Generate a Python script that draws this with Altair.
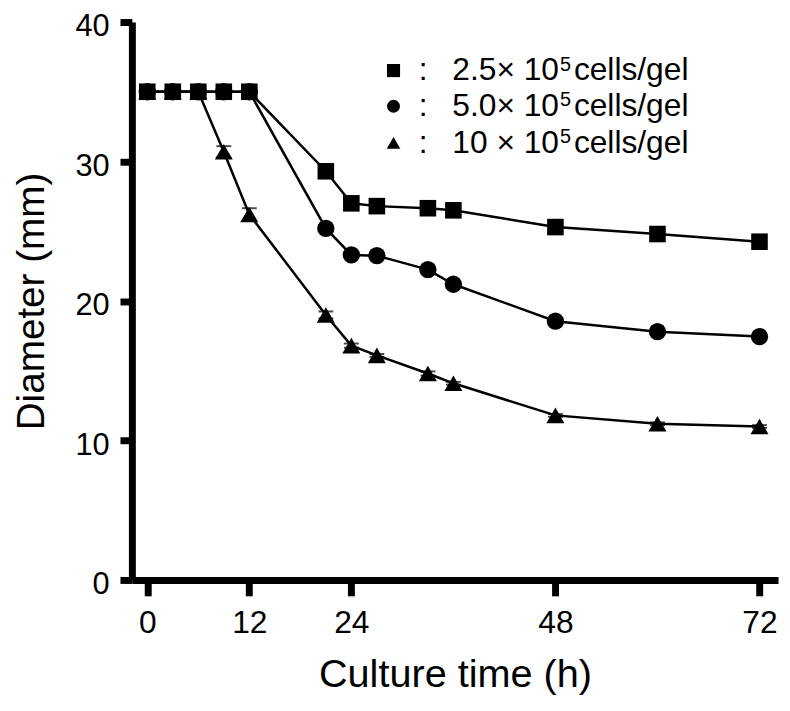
import altair as alt
import pandas as pd

FONT = "Liberation Sans"

# ---- data ----
times = [0, 3, 6, 9, 12, 21, 24, 27, 33, 36, 48, 60, 72]
diam_25 = [35, 35, 35, 35, 35, 29.3, 27.0, 26.8, 26.65, 26.5, 25.3, 24.8, 24.25]
diam_50 = [35, 35, 35, 35, 35, 25.2, 23.3, 23.25, 22.25, 21.2, 18.55, 17.8, 17.45]
diam_10 = [35, 35, 35, 30.7, 26.2, 19.0, 16.8, 16.1, 14.8, 14.1, 11.8, 11.2, 11.0]
err_10 = [0, 0, 0, 0.4, 0.45, 0.25, 0.15, 0.1, 0.15, 0.1, 0.1, 0.1, 0.1]

series_keys = ["10", "5.0", "2.5"]          # drawing order (squares on top)
series_shapes = ["triangle-up", "circle", "square"]
series_sizes = [330, 280, 320]

x_ticks = [0, 12, 24, 48, 72]
y_ticks = [0, 10, 20, 30, 40]

legend_shapes = ["square", "circle", "triangle-up"]
legend_sizes = [175, 170, 190]
legend_values = ["2.5\u00d7 10", "5.0\u00d7 10", "10 \u00d7 10"]
legend_sup = "5"
legend_unit = "cells/gel"
legend_rows_px = [49, 85, 122]

# ---- tables ----
rows = []
for key, vals in zip(series_keys, [diam_10, diam_50, diam_25]):
    for t, v in zip(times, vals):
        rows.append({"time": t, "diam": v, "series": key})
df = pd.DataFrame(rows)

err_df = pd.DataFrame({"time": times, "diam": diam_10, "err": err_10})
err_df = err_df[err_df["err"] > 0].copy()
err_df["lo"] = err_df["diam"] - err_df["err"]
err_df["hi"] = err_df["diam"] + err_df["err"]

x_scale = alt.Scale(domain=[-1.81, 74.18], nice=False, zero=False)
y_scale = alt.Scale(domain=[0, 40], nice=False, zero=True)

x_enc = alt.X("time:Q", scale=x_scale,
              axis=alt.Axis(values=x_ticks, title="Culture time (h)", tickSize=16,
                            labelPadding=12, titlePadding=16, labelFlush=False))
y_enc = alt.Y("diam:Q", scale=y_scale,
              axis=alt.Axis(values=y_ticks, title="Diameter (mm)", tickSize=12,
                            labelPadding=11, titlePadding=24, labelFlush=False,
                            labelOffset=5, labelFontSize=31, titleFontSize=39))

base = alt.Chart(df)

lines = base.mark_line(color="black", strokeWidth=2.5).encode(
    x=x_enc, y=y_enc, detail="series:N", order="time:Q"
)

err_rule = alt.Chart(err_df).mark_rule(color="black", strokeWidth=2).encode(
    x="time:Q", y="lo:Q", y2="hi:Q"
)
err_cap_hi = alt.Chart(err_df).mark_tick(color="black", thickness=2, size=15, orient="horizontal").encode(
    x="time:Q", y="hi:Q"
)
err_cap_lo = alt.Chart(err_df).mark_tick(color="black", thickness=2, size=15, orient="horizontal").encode(
    x="time:Q", y="lo:Q"
)

points = base.mark_point(filled=True, color="black", opacity=1, strokeWidth=0).encode(
    x="time:Q",
    y="diam:Q",
    shape=alt.Shape("series:N", scale=alt.Scale(domain=series_keys, range=series_shapes), legend=None),
    size=alt.Size("series:N", scale=alt.Scale(domain=series_keys, range=series_sizes), legend=None),
)

layers = [lines, err_rule, err_cap_hi, err_cap_lo, points]

# ---- custom legend ----
for i in range(3):
    ldf = pd.DataFrame({"v": [legend_values[i]]})
    yy = legend_rows_px[i]
    layers.append(
        alt.Chart(ldf).mark_point(filled=True, color="black", opacity=1, strokeWidth=0,
                                  shape=legend_shapes[i], size=legend_sizes[i]).encode(
            x=alt.value(264), y=alt.value(yy))
    )
    layers.append(
        alt.Chart(ldf).mark_text(text=":", font=FONT, fontSize=32, align="center",
                                 baseline="middle", color="black").encode(
            x=alt.value(294), y=alt.value(yy))
    )
    layers.append(
        alt.Chart(ldf).mark_text(font=FONT, fontSize=32, align="right",
                                 baseline="middle", color="black").encode(
            text="v:N", x=alt.value(431), y=alt.value(yy))
    )
    layers.append(
        alt.Chart(ldf).mark_text(text=legend_sup, font=FONT, fontSize=20, align="left",
                                 baseline="middle", color="black").encode(
            x=alt.value(432), y=alt.value(yy - 6))
    )
    layers.append(
        alt.Chart(ldf).mark_text(text=legend_unit, font=FONT, fontSize=32, align="left",
                                 baseline="middle", color="black").encode(
            x=alt.value(446), y=alt.value(yy))
    )

chart = alt.layer(*layers).properties(
    width=652, height=563,
    autosize=alt.AutoSizeParams(type="none"),
    padding={"left": 125, "top": 11, "right": 4, "bottom": 120},
).configure_view(stroke=None).configure_axis(
    domainColor="black", domainWidth=7, tickColor="black", tickWidth=7,
    labelColor="black", titleColor="black", labelFont=FONT, titleFont=FONT,
    labelFontSize=32, titleFontSize=40, titleFontWeight="normal", grid=False,
)

chart.save("out.html", embed_options={"renderer": "svg", "actions": False})
